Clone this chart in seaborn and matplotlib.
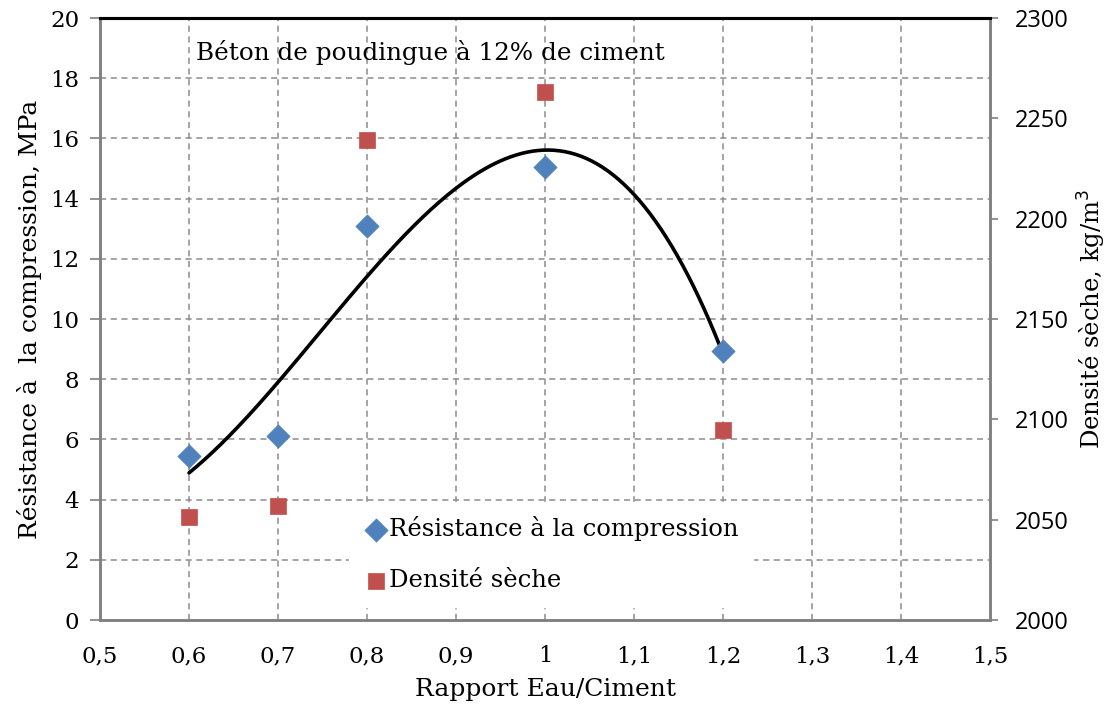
import numpy as np
import pandas as pd
import matplotlib
matplotlib.use("Agg")
import matplotlib.pyplot as plt
import seaborn as sns
from matplotlib.ticker import FuncFormatter

# Water/cement ratio and measured properties
ratio = [0.6, 0.7, 0.8, 1.0, 1.2]
resistance = [5.45, 6.1, 13.1, 15.05, 8.95]        # MPa
densite = [2051.5, 2057.0, 2239.0, 2263.0, 2094.5]  # kg/m3

x_ticks = [0.5, 0.6, 0.7, 0.8, 0.9, 1.0, 1.1, 1.2, 1.3, 1.4, 1.5]
y_ticks = [0, 2, 4, 6, 8, 10, 12, 14, 16, 18, 20]
y2_ticks = [2000, 2050, 2100, 2150, 2200, 2250, 2300]

sns.set_theme(style="white")
plt.rcParams["font.family"] = ["DejaVu Serif"]
plt.rcParams["text.color"] = "black"
plt.rcParams["axes.labelcolor"] = "black"

df = pd.DataFrame({"ratio": ratio, "resistance": resistance, "densite": densite})

# Third-order polynomial trend through the strength values
coef = np.polyfit(ratio, resistance, 3)
xs = np.linspace(min(ratio), max(ratio), 200)
trend = pd.DataFrame({"ratio": xs, "fit": np.polyval(coef, xs)})

fig = plt.figure(figsize=(11.15, 7.09), dpi=100)
ax = fig.add_axes([0.0897, 0.1255, 0.7982, 0.8491])
ax2 = ax.twinx()

grid_kw = dict(color="#8c8c8c", linestyle=(0, (4, 3)), linewidth=1.1)
for xv in x_ticks[1:-1]:
    ax.axvline(xv, zorder=0, **grid_kw)
for yv in y_ticks[1:-1]:
    ax.axhline(yv, zorder=0, **grid_kw)

sns.lineplot(data=trend, x="ratio", y="fit", ax=ax, color="black", linewidth=2.6,
             zorder=3, legend=False)
sns.scatterplot(data=df, x="ratio", y="resistance", ax=ax, marker="D", s=140,
                color="#4F81BD", edgecolor="#4F81BD", linewidth=0.5, zorder=4,
                label="Résistance à la compression")
sns.scatterplot(data=df, x="ratio", y="densite", ax=ax2, marker="s", s=120,
                color="#C0504D", edgecolor="#C0504D", linewidth=0.5, zorder=4,
                label="Densité sèche")

ax.set_xlim(0.5, 1.5)
ax.set_ylim(0, 20)
ax2.set_ylim(2000, 2300)
ax.set_xticks(x_ticks)
ax.set_yticks(y_ticks)
ax2.set_yticks(y2_ticks)
ax.xaxis.set_major_formatter(FuncFormatter(lambda v, p: f"{v:g}".replace(".", ",")))

ax.tick_params(axis="x", direction="inout", length=12, width=1.2, color="#808080",
               labelcolor="black", labelsize=16.5, pad=12)
ax.tick_params(axis="y", direction="out", length=7, width=1.2, color="#808080",
               labelcolor="black", labelsize=16.5, pad=8)
ax2.tick_params(axis="y", direction="out", length=6, width=1.2, color="#808080",
                labelcolor="black", labelsize=17, pad=12)
for lab in ax2.get_yticklabels():
    lab.set_fontfamily("Open Sans")

for a in (ax, ax2):
    for side in ("left", "right", "bottom"):
        a.spines[side].set_color("#808080")
        a.spines[side].set_linewidth(1.8)
    a.spines["top"].set_color("black")
    a.spines["top"].set_linewidth(2.2)

ax.set_xlabel("Rapport Eau/Ciment", fontsize=18, labelpad=8)
ax.set_ylabel("Résistance à  la compression, MPa", fontsize=18, labelpad=6)
ax2.set_ylabel("Densité sèche, kg/m$^{3}$", fontsize=17.5, labelpad=5)

ax.text(0.608, 18.85, "Béton de poudingue à 12% de ciment", fontsize=17.7,
        va="center", ha="left")

h1, l1 = ax.get_legend_handles_labels()
h2, l2 = ax2.get_legend_handles_labels()
if ax.get_legend():
    ax.get_legend().remove()
leg = ax2.legend(h1 + h2, l1 + l2, loc="lower left", bbox_to_anchor=(0.28, 0.022),
                 frameon=True, fontsize=17.5, handletextpad=0.05, labelspacing=1.15,
                 borderpad=0.6, handlelength=1.0, borderaxespad=0.0, fancybox=False)
leg.get_frame().set_facecolor("white")
leg.get_frame().set_edgecolor("white")
leg.get_frame().set_alpha(1)

fig.savefig("out.png", dpi=100)
